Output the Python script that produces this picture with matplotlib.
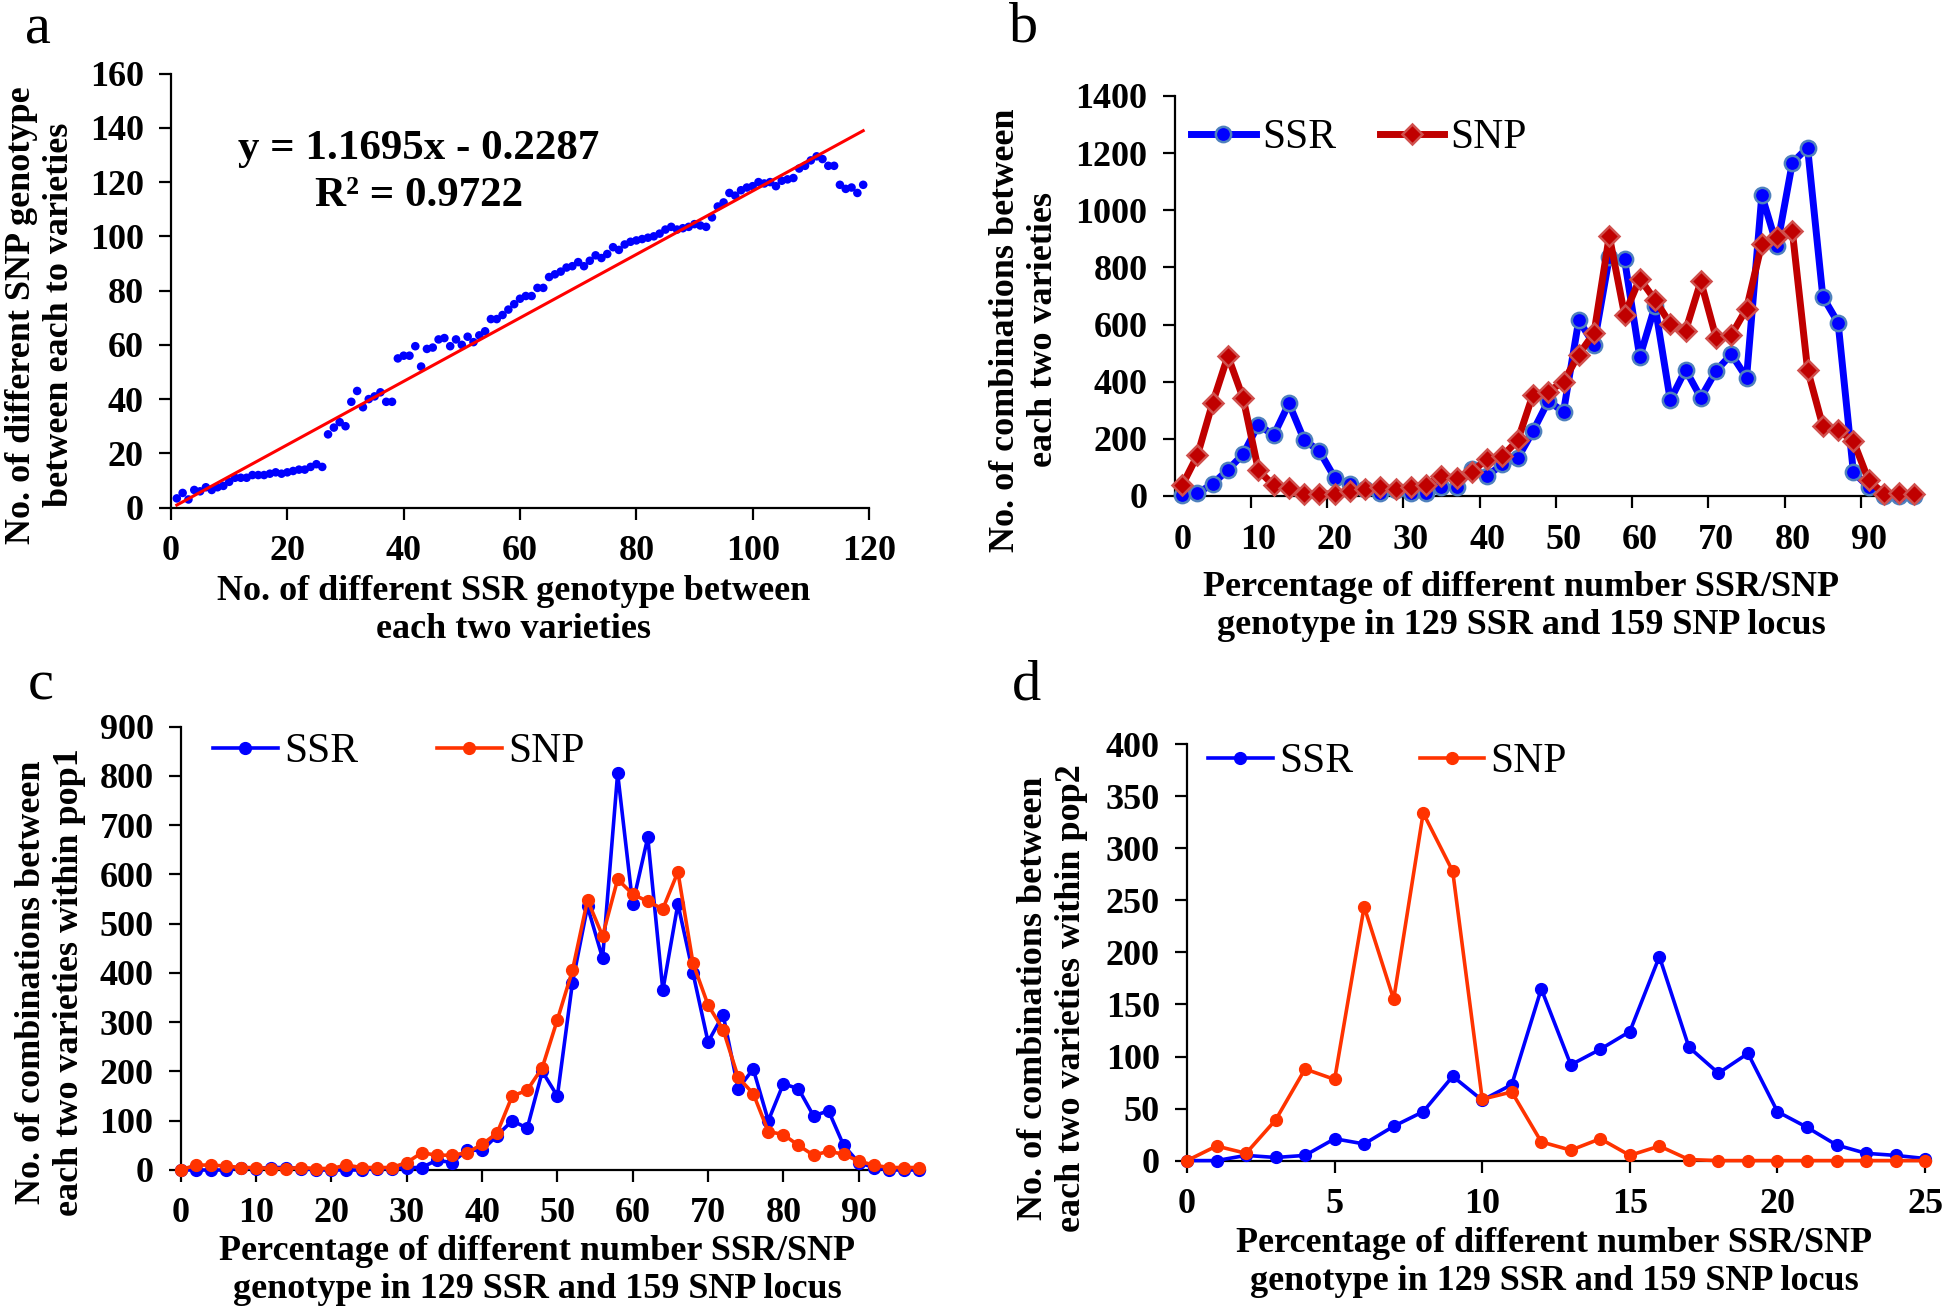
import numpy as np
import matplotlib
matplotlib.use("Agg")
import matplotlib.pyplot as plt
from matplotlib.ticker import FixedLocator

plt.rcParams["font.family"] = ["Liberation Serif", "DejaVu Serif"]

# ============================================================
# DATA
# ============================================================
# panel a: SSR vs SNP differences
ssr_diff = list(range(1, 120))
snp_diff = [3.4, 5.4, 3, 6.5, 6, 7.5, 6.5, 7.5, 8, 9.5,
            11, 11, 11, 12, 12, 12, 12.5, 13, 12.5, 13,
            13.5, 14, 14, 15, 16, 15, 27, 29.5, 31.5, 30,
            39, 43, 37, 40, 41, 42.5, 39, 39, 55, 56,
            56, 59.5, 52, 58.5, 59, 62, 62.5, 59.5, 62, 60,
            63, 61, 63.5, 65, 69.5, 69.5, 71, 73, 75, 77,
            78, 78, 81, 81, 85, 86, 87, 88.5, 89, 90.5,
            89, 91, 93, 92, 93.5, 96, 95, 97, 98, 98.5,
            99, 99.5, 100, 101, 102.5, 103.5, 102.5, 103, 103.5, 104.5,
            104, 103.5, 107, 111, 112.5, 116, 115, 117, 118, 118.5,
            120, 119.5, 120, 118.5, 120.5, 121, 121.5, 125, 126, 128,
            129.5, 128.5, 126, 126, 119, 117.5, 118, 116, 119]
fit_slope = 1.1695
fit_icpt = -0.2287
fit_r2 = 0.9722

# panel b: all varieties
pct_b = list(range(0, 98, 2))
ssr_b = [5, 10, 42, 92, 146, 250, 212, 324, 196, 157,
         64, 41, 25, 10, 20, 10, 12, 30, 30, 95,
         70, 112, 132, 227, 332, 295, 615, 530, 835, 828,
         486, 665, 335, 442, 344, 438, 496, 414, 1052, 874,
         1166, 1219, 697, 606, 84, 31, 0, 0, 0]
snp_b = [37, 142, 326, 490, 342, 90, 37, 27, 6, 6,
         8, 18, 25, 30, 25, 32, 38, 70, 62, 85,
         130, 140, 195, 355, 365, 400, 495, 570, 910, 635,
         760, 686, 603, 578, 751, 554, 563, 656, 883, 907,
         927, 442, 244, 230, 193, 55, 8, 10, 6]

# panel c: within pop1
pct_c = list(range(0, 100, 2))
ssr_c = [0, 0, 0, 0, 5, 3, 5, 5, 3, 0,
         0, 0, 0, 3, 3, 5, 5, 20, 15, 40,
         40, 70, 100, 85, 200, 150, 380, 535, 430, 805,
         540, 675, 365, 540, 400, 260, 315, 165, 205, 100,
         175, 165, 110, 120, 50, 15, 5, 0, 0, 0]
snp_c = [0, 10, 10, 8, 5, 5, 3, 3, 5, 3,
         3, 10, 5, 5, 5, 15, 35, 30, 30, 35,
         52, 75, 150, 162, 208, 305, 405, 548, 475, 590,
         560, 545, 530, 605, 420, 335, 285, 188, 155, 78,
         72, 50, 30, 38, 32, 18, 10, 5, 5, 5]

# panel d: within pop2
pct_d = list(range(0, 26))
ssr_d = [0, 0, 5, 3, 5, 21, 16, 33, 47, 81,
         58, 73, 165, 92, 107, 124, 196, 109, 84, 103,
         47, 32, 15, 7, 5, 2]
snp_d = [0, 14, 7, 39, 88, 78, 244, 155, 334, 278,
         59, 66, 18, 10, 21, 5, 14, 1, 0, 0,
         0, 0, 0, 0, 0, 0]

xlab_pct = "Percentage of different number SSR/SNP\ngenotype in 129 SSR and 159 SNP locus"

# ============================================================
W, H = 1944, 1312
fig = plt.figure(figsize=(W / 100, H / 100), dpi=100)


def axes_px(l, t, r, b):
    return fig.add_axes([l / W, 1 - b / H, (r - l) / W, (b - t) / H])


def style(ax):
    for s in ("top", "right"):
        ax.spines[s].set_visible(False)
    for s in ("left", "bottom"):
        ax.spines[s].set_linewidth(1.6)
        ax.spines[s].set_color("black")
    ax.tick_params(which="both", direction="out", length=8.5, width=1.6,
                   pad=11, labelsize=26, color="black")
    for lab in ax.get_xticklabels() + ax.get_yticklabels():
        lab.set_fontweight("bold")


def ftext(x, y, s, **kw):
    fig.text(x / W, 1 - y / H, s, **kw)


lab_kw = dict(fontsize=26, fontweight="bold", ha="center", va="center",
              multialignment="center", linespacing=1.2)

# ---------------- panel a ----------------
ax = axes_px(171, 73.6, 869, 507.6)
ax.scatter(ssr_diff, snp_diff, s=38, color="#0000ff", edgecolors="none",
           zorder=3, clip_on=False)
xf = np.array([ssr_diff[0], ssr_diff[-1]])
ax.plot(xf, fit_slope * xf + fit_icpt, color="#ff0000", lw=2.2, zorder=4)
ax.set_xlim(0, 120)
ax.set_ylim(0, 160)
ax.set_xticks(range(0, 121, 20))
ax.set_yticks(range(0, 161, 20))
style(ax)
ftext(419, 149, f"y = {fit_slope}x - {abs(fit_icpt)}", fontsize=31,
      fontweight="bold", ha="center", va="center")
ftext(419, 196, f"R² = {fit_r2}", fontsize=31, fontweight="bold",
      ha="center", va="center")
ftext(514, 611, "No. of different SSR genotype between\neach two varieties", **lab_kw)
ftext(41, 315, "No. of different SNP genotype\nbetween each to varieties",
      rotation=90, **lab_kw)

# ---------------- panel b ----------------
ax = axes_px(1174.5, 95.9, 1922, 496)
ax.plot(pct_b, ssr_b, color="#0000ff", lw=5, marker="o", ms=11,
        mfc="#0000ff", mec="#4f81bd", mew=1.8, label="SSR", clip_on=False,
        zorder=3)
ax.plot(pct_b, snp_b, color="#c00000", lw=5, marker="D", ms=10.5,
        mfc="#c00000", mec="#d0504d", mew=1.8, label="SNP", clip_on=False,
        zorder=4)
ax.set_xlim(-1, 97)
ax.set_ylim(0, 1400)
ax.set_xticks(range(0, 91, 10))
ax.xaxis.set_minor_locator(FixedLocator([t - 1 for t in range(10, 91, 10)]))
ax.set_yticks(range(0, 1401, 200))
style(ax)
ax.tick_params(axis="x", which="major", length=0, pad=20.5)
ax.legend(loc="center left", bbox_to_anchor=(1191 / W, 1 - 138 / H),
          bbox_transform=fig.transFigure, ncol=2, frameon=False,
          fontsize=30, handlelength=1.55, handletextpad=0.15,
          columnspacing=1.05, borderpad=0, borderaxespad=0)
ftext(1521, 606, xlab_pct, **lab_kw)
ftext(1025, 330, "No. of combinations between\neach two varieties",
      rotation=90, **lab_kw)

# ---------------- panel c ----------------
ax = axes_px(180.7, 726.6, 925, 1170)
ax.plot(pct_c, ssr_c, color="#0000ff", lw=2.6, marker="o", ms=8.5,
        label="SSR", clip_on=False, zorder=3)
ax.plot(pct_c, snp_c, color="#ff3300", lw=2.6, marker="o", ms=8.5,
        label="SNP", clip_on=False, zorder=4)
ax.set_xlim(0, 98.8)
ax.set_ylim(0, 900)
ax.set_xticks(range(0, 91, 10))
ax.set_yticks(range(0, 901, 100))
style(ax)
ax.legend(loc="center left", bbox_to_anchor=(213 / W, 1 - 752 / H),
          bbox_transform=fig.transFigure, ncol=2, frameon=False,
          fontsize=30, handlelength=1.55, handletextpad=0.15,
          columnspacing=1.9, borderpad=0, borderaxespad=0)
ftext(537, 1270, xlab_pct, **lab_kw)
ftext(51, 982, "No. of combinations between\neach two varieties within pop1",
      rotation=90, **lab_kw)

# ---------------- panel d ----------------
ax = axes_px(1187, 744.3, 1931, 1160.6)
ax.plot(pct_d, ssr_d, color="#0000ff", lw=2.6, marker="o", ms=8.5,
        label="SSR", clip_on=False, zorder=3)
ax.plot(pct_d, snp_d, color="#ff3300", lw=2.6, marker="o", ms=8.5,
        label="SNP", clip_on=False, zorder=4)
ax.set_xlim(0, 25.2)
ax.set_ylim(0, 400)
ax.set_xticks(range(0, 26, 5))
ax.set_yticks(range(0, 401, 50))
style(ax)
ax.legend(loc="center left", bbox_to_anchor=(1208 / W, 1 - 762 / H),
          bbox_transform=fig.transFigure, ncol=2, frameon=False,
          fontsize=30, handlelength=1.55, handletextpad=0.15,
          columnspacing=1.6, borderpad=0, borderaxespad=0)
ftext(1554, 1263, xlab_pct, **lab_kw)
ftext(1053, 998, "No. of combinations between\neach two varieties within pop2",
      rotation=90, **lab_kw)

# panel letters
for letter, x, y in [("a", 25, 44), ("b", 1009, 42), ("c", 28, 700), ("d", 1012, 700)]:
    ftext(x, y, letter, fontsize=42, ha="left", va="baseline")

fig.savefig("out.png", dpi=100)
plt.close(fig)
